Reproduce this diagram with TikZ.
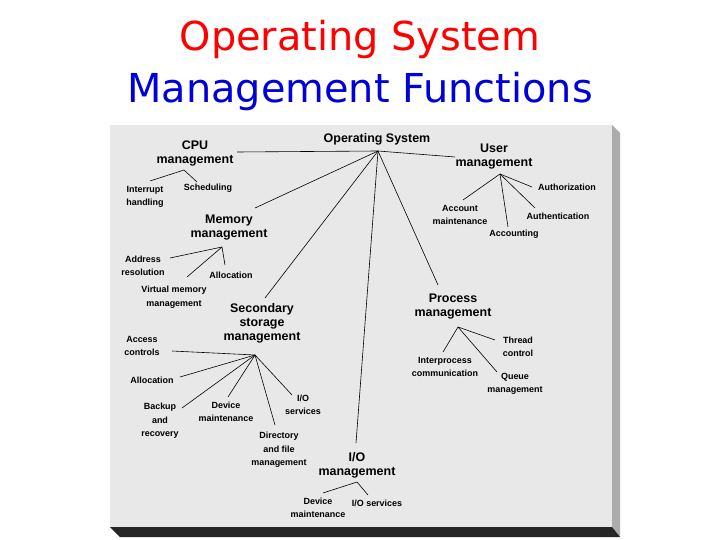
\documentclass[tikz,border=0pt]{standalone}
\usepackage{fontspec}
\setmainfont{Liberation Sans}
\newfontfamily\titlefont{DejaVu Sans}
\begin{document}
\begin{tikzpicture}[x=1bp,y=-1bp,
  big/.style={font=\bfseries\fontsize{12.5}{14}\selectfont,align=center,inner sep=0pt},
  sm/.style={font=\bfseries\fontsize{9}{13.5}\selectfont,align=center,inner sep=0pt},
  br/.style={line width=0.6pt,black}]
\useasboundingbox (0,0) rectangle (720,540);
\fill[white] (0,0) rectangle (720,540);
\node[text=red,font=\titlefont\fontsize{40}{44}\selectfont] (t1) at (360,40) {Operating System};
\node[text=blue!85!black,font=\titlefont\fontsize{40}{44}\selectfont] (t2) at (360,92) {Management Functions};
% panel
\fill[gray!65] (612,125) -- (620,133) -- (620,537) -- (612,527) -- cycle;
\fill[black!85] (110,527) -- (612,527) -- (620,537) -- (120,537) -- cycle;
\fill[gray!18] (110,125) rectangle (612,527);
% hubs
\coordinate (os) at (378,151);
\coordinate (cpuh) at (184,170);
\coordinate (memh) at (222,247);
\coordinate (userh) at (500,174);
\coordinate (proch) at (458,327);
\coordinate (sech) at (255,355);
\coordinate (ioh) at (357,482);
% endpoints
\coordinate (e1) at (237,152); \coordinate (e2) at (455,157);
\coordinate (e3) at (255,208); \coordinate (e4) at (265,298);
\coordinate (e5) at (356,443); \coordinate (e6) at (438,285);
\coordinate (c1) at (150,181); \coordinate (c2) at (197,182);
\coordinate (m1) at (170,258); \coordinate (m2) at (187,277); \coordinate (m3) at (225,265);
\coordinate (u1) at (463,200); \coordinate (u2) at (508,227); \coordinate (u3) at (535,208); \coordinate (u4) at (532,187);
\coordinate (p1) at (443,352); \coordinate (p2) at (497,372); \coordinate (p3) at (495,340);
\coordinate (s1) at (172,351); \coordinate (s2) at (180,377); \coordinate (s3) at (182,408);
\coordinate (s4) at (228,397); \coordinate (s5) at (275,425); \coordinate (s6) at (292,395);
\coordinate (i1) at (323,493); \coordinate (i2) at (368,495);
% texts
\node[big] (os-t) at (377,139) {Operating System};
\node[big] (cpu) at (195,153) {CPU\\management};
\node[big] (user) at (494,157) {User\\management};
\node[big] (mem) at (229,228) {Memory\\management};
\node[big] (proc) at (453,307) {Process\\management};
\node[big] (sec) at (262,323) {Secondary\\storage\\management};
\node[big] (io) at (357,465) {I/O\\management};
\node[sm] (n1) at (145,197) {Interrupt\\handling};
\node[sm] (n2) at (208,188) {Scheduling};
\node[sm] (n3) at (143,266) {Address\\resolution};
\node[sm] (n4) at (231,275) {Allocation};
\node[sm] (n5) at (174,297) {Virtual memory\\management};
\node[sm] (n6) at (460,215) {Account\\maintenance};
\node[sm] (n7) at (514,234) {Accounting};
\node[sm] (n8) at (558,216) {Authentication};
\node[sm] (n9) at (567,187) {Authorization};
\node[sm] (n10) at (445,367) {Interprocess\\communication};
\node[sm] (n11) at (518,347) {Thread\\control};
\node[sm] (n12) at (515,384) {Queue\\management};
\node[sm] (n13) at (142,346) {Access\\controls};
\node[sm] (n14) at (152,380) {Allocation};
\node[sm] (n15) at (160,421) {Backup\\and\\recovery};
\node[sm] (n16) at (226,412) {Device\\maintenance};
\node[sm] (n17) at (303,405) {I/O\\services};
\node[sm] (n18) at (279,450) {Directory\\and file\\management};
\node[sm] (n19) at (318,508) {Device\\maintenance};
\node[sm] (n20) at (377,503) {I/O services};
% lines
\foreach \e in {e1,e2,e3,e4,e5,e6} \draw[br] (os) -- (\e);
\foreach \e in {c1,c2} \draw[br] (cpuh) -- (\e);
\foreach \e in {m1,m2,m3} \draw[br] (memh) -- (\e);
\foreach \e in {u1,u2,u3,u4} \draw[br] (userh) -- (\e);
\foreach \e in {p1,p2,p3} \draw[br] (proch) -- (\e);
\foreach \e in {s1,s2,s3,s4,s5,s6} \draw[br] (sech) -- (\e);
\foreach \e in {i1,i2} \draw[br] (ioh) -- (\e);
\end{tikzpicture}
\end{document}
